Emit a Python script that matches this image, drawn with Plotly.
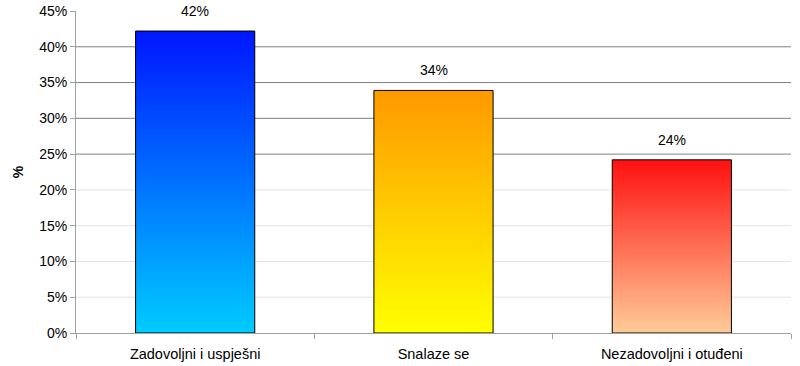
import plotly.graph_objects as go

categories = ["Zadovoljni i uspješni", "Snalaze se", "Nezadovoljni i otuđeni"]
values = [42.2, 33.9, 24.2]
value_labels = ["42%", "34%", "24%"]
top_colors = ["#0016FF", "#FF9900", "#FF1010"]
bottom_colors = ["#00CCFF", "#FFFF00", "#FFCC99"]
y_ticks = [0, 5, 10, 15, 20, 25, 30, 35, 40, 45]
y_tick_labels = ["0%", "5%", "10%", "15%", "20%", "25%", "30%", "35%", "40%", "45%"]
dark_grid = [25, 30, 35, 40]
light_grid = [5, 10, 15, 20]

FONT = "Liberation Sans, Arial, sans-serif"
half = 0.25

fig = go.Figure()
for i, (v, tc, bc) in enumerate(zip(values, top_colors, bottom_colors)):
    fig.add_trace(go.Scatter(
        x=[i - half, i + half, i + half, i - half, i - half],
        y=[0, 0, v, v, 0],
        mode="lines",
        fill="toself",
        fillgradient=dict(type="vertical", colorscale=[[0, bc], [1, tc]]),
        line=dict(color="#000000", width=1),
        hoverinfo="skip",
        showlegend=False,
    ))

annotations = []
for i, (v, lab) in enumerate(zip(values, value_labels)):
    annotations.append(dict(x=i, y=v, xref="x", yref="y", text=lab, showarrow=False,
                            yanchor="bottom", yshift=10,
                            font=dict(family=FONT, size=14, color="#000000")))

shapes = []
for g in light_grid:
    shapes.append(dict(type="line", xref="paper", yref="y", x0=0, x1=1, y0=g, y1=g,
                       line=dict(color="#E3E3E3", width=1), layer="below"))
for g in dark_grid:
    shapes.append(dict(type="line", xref="paper", yref="y", x0=0, x1=1, y0=g, y1=g,
                       line=dict(color="#808080", width=1), layer="below"))

fig.update_layout(
    width=800, height=366,
    margin=dict(l=76, r=9, t=11, b=33),
    paper_bgcolor="#FFFFFF",
    plot_bgcolor="#FFFFFF",
    font=dict(family=FONT, size=14, color="#000000"),
    shapes=shapes,
    annotations=annotations,
    xaxis=dict(
        range=[-0.5, 2.5],
        tickvals=list(range(len(categories))),
        ticktext=categories,
        ticks="",
        ticklabelstandoff=8,
        showgrid=False,
        zeroline=False,
        showline=True,
        linecolor="#A0A0A0",
        linewidth=1,
        automargin=False,
        tickfont=dict(family=FONT, size=14.5),
        minor=dict(tickvals=[-0.5, 0.5, 1.5, 2.5], ticks="outside", ticklen=5,
                   tickcolor="#A0A0A0", showgrid=False),
    ),
    yaxis=dict(
        range=[0, 45],
        tickmode="array",
        tickvals=y_ticks,
        ticktext=y_tick_labels,
        ticks="outside",
        ticklen=5,
        tickcolor="#A0A0A0",
        showgrid=False,
        zeroline=False,
        showline=True,
        linecolor="#A0A0A0",
        linewidth=1,
        automargin=False,
        tickfont=dict(family=FONT, size=14),
        title=dict(text="<b>%</b>", font=dict(family=FONT, size=14), standoff=12),
    ),
)

fig.write_html("out.html", config={"displayModeBar": False},
               post_script="document.body.style.margin='0';")
